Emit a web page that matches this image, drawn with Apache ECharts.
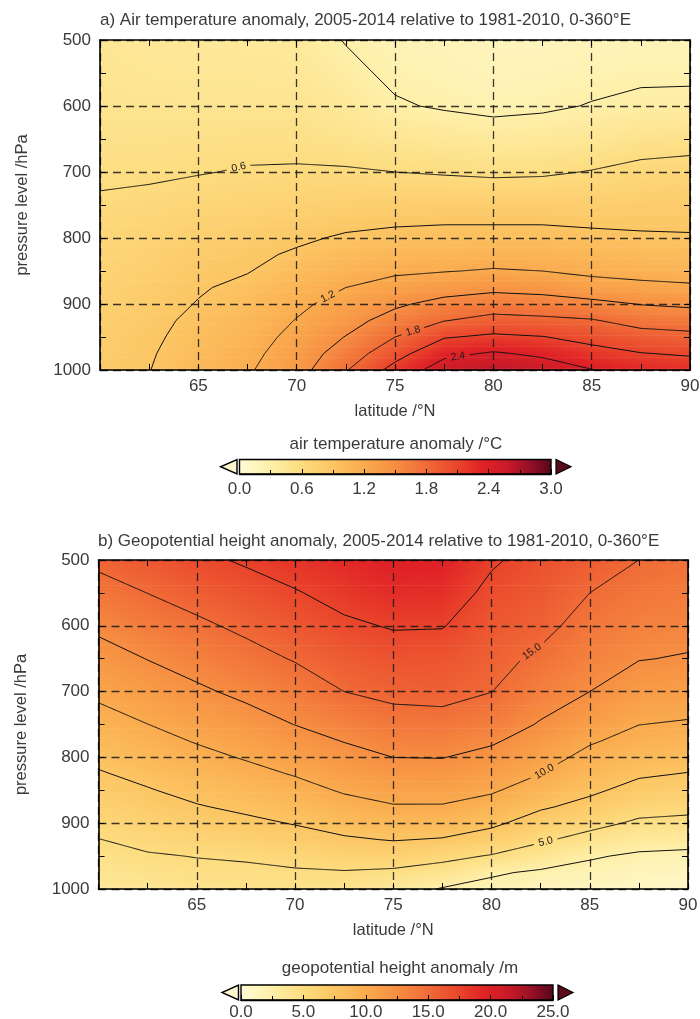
<!DOCTYPE html>
<html>
<head>
<meta charset="utf-8">
<script src="https://cdn.jsdelivr.net/npm/echarts@6/dist/echarts.min.js"></script>
<style>
  html, body { margin: 0; padding: 0; background: #ffffff; }
  #chart { width: 700px; height: 1019px; }
</style>
</head>
<body>
<div id="chart"></div>
<script>
// ---- grid coordinates ----
const latitudes = [60, 62.5, 65, 67.5, 70, 72.5, 75, 77.5, 80, 82.5, 85, 87.5, 90];
const pressureLevels = [500, 550, 600, 650, 700, 750, 775, 800, 825, 850, 875, 900, 925, 950, 975, 1000];

// ---- air temperature anomaly (°C), one row per latitude, 500 -> 1000 hPa ----
const airTempAnomaly = [
  [0.45, 0.47, 0.49, 0.52, 0.56, 0.63, 0.66, 0.68, 0.70, 0.72, 0.74, 0.76, 0.78, 0.79, 0.81, 0.82],
  [0.43, 0.45, 0.48, 0.52, 0.57, 0.65, 0.69, 0.72, 0.75, 0.77, 0.80, 0.82, 0.84, 0.86, 0.88, 0.895],
  [0.42, 0.44, 0.48, 0.53, 0.59, 0.69, 0.74, 0.78, 0.82, 0.85, 0.88, 0.91, 0.95, 0.98, 1.01, 1.04],
  [0.41, 0.44, 0.48, 0.54, 0.615, 0.71, 0.76, 0.81, 0.85, 0.89, 0.95, 1.00, 1.05, 1.09, 1.13, 1.17],
  [0.40, 0.43, 0.48, 0.54, 0.62, 0.74, 0.80, 0.86, 0.93, 1.00, 1.08, 1.15, 1.21, 1.27, 1.33, 1.38],
  [0.29, 0.35, 0.42, 0.50, 0.62, 0.76, 0.84, 0.93, 1.01, 1.10, 1.20, 1.29, 1.39, 1.51, 1.64, 1.78],
  [0.22, 0.26, 0.32, 0.46, 0.60, 0.78, 0.87, 0.96, 1.06, 1.16, 1.30, 1.45, 1.62, 1.80, 1.99, 2.20],
  [0.20, 0.23, 0.28, 0.43, 0.58, 0.79, 0.88, 0.98, 1.08, 1.19, 1.36, 1.60, 1.79, 2.08, 2.33, 2.55],
  [0.17, 0.20, 0.25, 0.40, 0.56, 0.79, 0.88, 0.98, 1.09, 1.22, 1.43, 1.66, 1.89, 2.15, 2.43, 2.65],
  [0.17, 0.21, 0.27, 0.41, 0.57, 0.79, 0.88, 0.98, 1.09, 1.20, 1.40, 1.63, 1.86, 2.11, 2.35, 2.55],
  [0.19, 0.24, 0.31, 0.44, 0.61, 0.78, 0.86, 0.96, 1.06, 1.15, 1.30, 1.58, 1.82, 2.01, 2.20, 2.41],
  [0.20, 0.26, 0.35, 0.50, 0.66, 0.80, 0.86, 0.93, 1.02, 1.11, 1.27, 1.49, 1.70, 1.91, 2.11, 2.30],
  [0.21, 0.26, 0.36, 0.52, 0.68, 0.81, 0.86, 0.92, 1.00, 1.09, 1.24, 1.45, 1.67, 1.87, 2.07, 2.25]
];

// ---- geopotential height anomaly (m), one row per latitude, 500 -> 1000 hPa ----
const geoHeightAnomaly = [
  [15.45, 14.2, 12.9, 11.68, 10.42, 9.18, 8.56, 7.95, 7.33, 6.74, 6.14, 5.55, 4.96, 4.45, 3.95, 3.5],
  [16.3, 15.02, 13.8, 12.55, 11.3, 9.98, 9.33, 8.68, 8.02, 7.37, 6.74, 6.1, 5.46, 4.85, 4.3, 3.8],
  [17.05, 15.83, 14.6, 13.38, 12.15, 10.8, 10.13, 9.45, 8.77, 8.07, 7.37, 6.7, 5.9, 5.05, 4.6, 4.2],
  [17.75, 16.6, 15.45, 14.25, 12.98, 11.6, 10.88, 10.15, 9.4, 8.65, 7.88, 7.08, 6.25, 5.2, 4.65, 4.3],
  [18.5, 17.35, 16.25, 15.15, 13.8, 12.53, 11.75, 10.95, 10.13, 9.3, 8.45, 7.6, 6.7, 5.65, 4.75, 4.4],
  [19.1, 18.2, 17.15, 16.0, 15.0, 13.35, 12.57, 11.8, 11.05, 10.2, 9.3, 8.28, 7.25, 6.05, 4.85, 4.3],
  [19.8, 18.9, 17.65, 16.55, 15.55, 14.1, 13.35, 12.5, 11.65, 10.8, 9.85, 8.75, 7.6, 6.2, 4.6, 3.4],
  [19.7, 18.75, 17.6, 16.5, 15.72, 14.15, 13.38, 12.55, 11.7, 10.8, 9.85, 8.7, 7.35, 5.55, 4.1, 2.35],
  [17.8, 16.9, 16.25, 15.65, 15.03, 13.6, 12.75, 11.9, 11.1, 10.25, 9.15, 7.9, 6.55, 4.85, 2.75, 1.9],
  [16.6, 16.2, 15.6, 14.6, 13.5, 12.33, 11.55, 10.75, 10.0, 8.95, 7.75, 6.55, 5.3, 3.8, 2.2, 1.4],
  [16.0, 15.0, 14.15, 13.35, 12.5, 11.05, 10.2, 9.45, 8.7, 7.85, 6.9, 5.65, 4.25, 2.7, 1.9, 1.2],
  [15.0, 14.2, 13.4, 12.58, 11.3, 10.02, 9.35, 8.55, 7.75, 6.85, 5.8, 4.65, 3.35, 2.2, 1.5, 1.0],
  [14.6, 13.85, 13.15, 12.35, 11.1, 9.8, 9.1, 8.3, 7.42, 6.55, 5.55, 4.45, 3.25, 2.0, 1.3, 0.8]
];

// ---- contour levels and colour scales ----
const airTempContourLevels = [0.3, 0.6, 0.9, 1.2, 1.5, 1.8, 2.1, 2.4, 2.7];
const geoHeightContourLevels = [2.5, 5, 7.5, 10, 12.5, 15, 17.5, 20, 22.5];
const airTempLabelledLevels = [0.6, 1.2, 1.8, 2.4];
const geoHeightLabelledLevels = [5, 10, 15];
const airTempRange = [0, 3];
const geoHeightRange = [0, 25];
const airTempColorbarStep = 0.6;
const geoHeightColorbarStep = 5;

// approximate spots (lat, hPa) where each contour label sits
const airTempLabelSpots = [[67.1, 699], [71.7, 896], [75.9, 939], [78.2, 980]];
const geoHeightLabelSpots = [[82.8, 933], [82.7, 822], [82.1, 641]];

// yellow - orange - red colour ramp
const RAMP = [
  [0.00, '#fffbd6'], [0.10, '#fef0aa'], [0.20, '#fddc7f'], [0.30, '#fcc563'],
  [0.40, '#faab4e'], [0.50, '#f68e42'], [0.60, '#f06b37'], [0.70, '#e9442b'],
  [0.78, '#e02226'], [0.86, '#c81a28'], [0.93, '#961027'], [1.00, '#55071a']
];
const UNDER_COLOR = '#fff7cc';
const OVER_COLOR = '#5a0a1c';

const FONT = '"Liberation Sans", Arial, Helvetica, sans-serif';
const TEXT = '#3a3a3a';

function hexRgb(h) {
  return [parseInt(h.slice(1, 3), 16), parseInt(h.slice(3, 5), 16), parseInt(h.slice(5, 7), 16)];
}
const RAMP_RGB = RAMP.map(s => [s[0], hexRgb(s[1])]);
function rampColor(t) {
  t = Math.max(0, Math.min(1, t));
  for (let k = 1; k < RAMP_RGB.length; k++) {
    if (t <= RAMP_RGB[k][0]) {
      const t0 = RAMP_RGB[k - 1][0], t1 = RAMP_RGB[k][0];
      const a = RAMP_RGB[k - 1][1], b = RAMP_RGB[k][1];
      const f = (t - t0) / (t1 - t0);
      return 'rgb(' + Math.round(a[0] + (b[0] - a[0]) * f) + ',' +
        Math.round(a[1] + (b[1] - a[1]) * f) + ',' + Math.round(a[2] + (b[2] - a[2]) * f) + ')';
    }
  }
  return RAMP[RAMP.length - 1][1];
}

// ---- marching squares on the latitude / pressure grid ----
function contourLines(values, level) {
  const nx = latitudes.length, ny = pressureLevels.length;
  const pointOf = key => {
    const parts = key.split(':');
    const i = +parts[1], j = +parts[2];
    if (parts[0] === 'h') {
      const va = values[i][j], vb = values[i + 1][j];
      const t = (level - va) / (vb - va);
      return [latitudes[i] + (latitudes[i + 1] - latitudes[i]) * t, pressureLevels[j]];
    }
    const va = values[i][j], vb = values[i][j + 1];
    const t = (level - va) / (vb - va);
    return [latitudes[i], pressureLevels[j] + (pressureLevels[j + 1] - pressureLevels[j]) * t];
  };
  const segs = [];
  for (let i = 0; i < nx - 1; i++) {
    for (let j = 0; j < ny - 1; j++) {
      const c = [values[i][j], values[i + 1][j], values[i + 1][j + 1], values[i][j + 1]];
      const edges = [['h', i, j, 0, 1], ['v', i + 1, j, 1, 2], ['h', i, j + 1, 3, 2], ['v', i, j, 0, 3]];
      const hits = [];
      edges.forEach(e => {
        if ((c[e[3]] >= level) !== (c[e[4]] >= level)) hits.push(e[0] + ':' + e[1] + ':' + e[2]);
      });
      if (hits.length === 2) segs.push(hits);
      else if (hits.length === 4) {
        const centre = (c[0] + c[1] + c[2] + c[3]) / 4;
        if ((c[0] >= level) === (centre >= level)) { segs.push([hits[0], hits[1]]); segs.push([hits[2], hits[3]]); }
        else { segs.push([hits[0], hits[3]]); segs.push([hits[1], hits[2]]); }
      }
    }
  }
  // join the cell segments into polylines
  const adj = {};
  segs.forEach((s, k) => s.forEach(key => { (adj[key] = adj[key] || []).push(k); }));
  const used = segs.map(() => false);
  const walk = (k, startKey) => {
    const keys = [startKey];
    let cur = k, key = startKey;
    while (cur !== -1) {
      used[cur] = true;
      const s = segs[cur];
      key = s[0] === key ? s[1] : s[0];
      keys.push(key);
      cur = -1;
      for (const m of adj[key]) if (!used[m]) { cur = m; break; }
    }
    return keys;
  };
  const lines = [];
  Object.keys(adj).forEach(key => {
    if (adj[key].length === 1 && !used[adj[key][0]]) lines.push(walk(adj[key][0], key));
  });
  segs.forEach((s, k) => { if (!used[k]) lines.push(walk(k, s[0])); });
  return lines.map(keys => keys.map(pointOf));
}

function buildPolylines(values, levels) {
  const out = [];
  levels.forEach(level => contourLines(values, level).forEach(pts => out.push({ level, pts })));
  return out;
}

// where a contour label sits, in pixels, with the local direction of the line
function labelPlacement(polys, level, spot, api) {
  const hp = api.coord(spot);
  let best = null;
  polys.forEach(pl => {
    if (pl.level !== level) return;
    const px = pl.pts.map(p => api.coord(p));
    for (let k = 0; k < px.length - 1; k++) {
      const a = px[k], b = px[k + 1];
      const dx = b[0] - a[0], dy = b[1] - a[1];
      const len2 = dx * dx + dy * dy || 1e-9;
      let t = ((hp[0] - a[0]) * dx + (hp[1] - a[1]) * dy) / len2;
      t = Math.max(0, Math.min(1, t));
      const q = [a[0] + dx * t, a[1] + dy * t];
      const d = Math.hypot(q[0] - hp[0], q[1] - hp[1]);
      if (!best || d < best.d) best = { d, x: q[0], y: q[1], dx, dy };
    }
  });
  if (!best) return null;
  let ang = Math.atan2(best.dy, best.dx);
  if (ang > Math.PI / 2) ang -= Math.PI;
  if (ang < -Math.PI / 2) ang += Math.PI;
  return { x: best.x, y: best.y, rotation: -ang };
}

function labelText(level) {
  return level.toFixed(1);
}

function cutPolyline(pts, centre, r) {
  const pieces = [];
  let cur = [];
  for (let k = 0; k < pts.length - 1; k++) {
    const a = pts[k], b = pts[k + 1];
    const n = Math.max(1, Math.ceil(Math.hypot(b[0] - a[0], b[1] - a[1])));
    for (let s = (k === 0 ? 0 : 1); s <= n; s++) {
      const t = s / n;
      const p = [a[0] + (b[0] - a[0]) * t, a[1] + (b[1] - a[1]) * t];
      if (Math.hypot(p[0] - centre[0], p[1] - centre[1]) < r) {
        if (cur.length > 1) pieces.push(cur);
        cur = [];
      } else cur.push(p);
    }
  }
  if (cur.length > 1) pieces.push(cur);
  return pieces;
}

// ---- series builders ----
function fillSeries(values, range, axisIdx) {
  const cells = [];
  for (let i = 0; i < latitudes.length - 1; i++)
    for (let j = 0; j < pressureLevels.length - 1; j++)
      cells.push([latitudes[i], pressureLevels[j], i, j]);
  return {
    type: 'custom', xAxisIndex: axisIdx, yAxisIndex: axisIdx, z: 1, silent: true,
    animation: false, progressive: 0,
    encode: { x: 0, y: 1 },
    data: cells,
    renderItem(params, api) {
      const i = api.value(2), j = api.value(3);
      const pA = api.coord([latitudes[i], pressureLevels[j]]);
      const pB = api.coord([latitudes[i + 1], pressureLevels[j + 1]]);
      const x0 = Math.min(pA[0], pB[0]), x1 = Math.max(pA[0], pB[0]);
      const y0 = Math.min(pA[1], pB[1]), y1 = Math.max(pA[1], pB[1]);
      const h = y1 - y0;
      const rows = Math.max(1, Math.ceil(h / 2));
      const span = range[1] - range[0];
      const children = [];
      for (let r = 0; r < rows; r++) {
        const t = (r + 0.5) / rows;
        const vl = values[i][j] + (values[i][j + 1] - values[i][j]) * t;
        const vr = values[i + 1][j] + (values[i + 1][j + 1] - values[i + 1][j]) * t;
        const stops = [];
        for (let k = 0; k <= 6; k++) {
          const f = k / 6;
          stops.push({ offset: f, color: rampColor((vl + (vr - vl) * f - range[0]) / span) });
        }
        children.push({
          type: 'rect',
          shape: { x: x0, y: y0 + h * r / rows, width: x1 - x0 + 0.7, height: h / rows + 0.7 },
          style: { fill: { type: 'linear', x: 0, y: 0, x2: 1, y2: 0, colorStops: stops } }
        });
      }
      return { type: 'group', children };
    }
  };
}

function contourSeries(polys, labelled, spots, axisIdx) {
  return {
    type: 'custom', xAxisIndex: axisIdx, yAxisIndex: axisIdx, z: 5, silent: true,
    animation: false, progressive: 0,
    encode: { x: 0, y: 1 },
    data: polys.map((pl, k) => [pl.pts[0][0], pl.pts[0][1], k]),
    renderItem(params, api) {
      const pl = polys[api.value(2)];
      let pieces = [pl.pts.map(p => api.coord(p))];
      const li = labelled.indexOf(pl.level);
      if (li >= 0) {
        const place = labelPlacement(polys, pl.level, spots[li], api);
        if (place) {
          const r = labelText(pl.level).length * 2.9 + 3;
          pieces = cutPolyline(pieces[0], [place.x, place.y], r);
        }
      }
      return {
        type: 'group',
        children: pieces.map(pts => ({
          type: 'polyline', shape: { points: pts },
          style: { stroke: '#111111', lineWidth: 1, fill: null }
        }))
      };
    }
  };
}

function contourLabelSeries(polys, labelled, spots, axisIdx) {
  return {
    type: 'custom', xAxisIndex: axisIdx, yAxisIndex: axisIdx, z: 6, silent: true,
    animation: false,
    encode: { x: 0, y: 1 },
    data: labelled.map((lv, k) => [spots[k][0], spots[k][1], k]),
    renderItem(params, api) {
      const k = api.value(2);
      const place = labelPlacement(polys, labelled[k], spots[k], api);
      if (!place) return null;
      return {
        type: 'text', x: place.x, y: place.y, rotation: place.rotation,
        style: {
          text: labelText(labelled[k]), fill: '#1a1a1a',
          font: '10.5px ' + FONT, align: 'center', verticalAlign: 'middle'
        }
      };
    }
  };
}

function colorbarSeries(range, axisIdx) {
  return {
    type: 'custom', xAxisIndex: axisIdx, yAxisIndex: axisIdx, z: 1, silent: true,
    animation: false,
    encode: { x: 0, y: 1 },
    data: [[range[0], 0]],
    renderItem(params, api) {
      const tl = api.coord([range[0], 1]);
      const br = api.coord([range[1], 0]);
      const stops = [];
      for (let k = 0; k <= 40; k++) stops.push({ offset: k / 40, color: rampColor(k / 40) });
      const h = br[1] - tl[1], mid = (tl[1] + br[1]) / 2;
      return {
        type: 'group',
        children: [
          {
            type: 'rect', shape: { x: tl[0], y: tl[1], width: br[0] - tl[0], height: h },
            style: { fill: { type: 'linear', x: 0, y: 0, x2: 1, y2: 0, colorStops: stops }, stroke: '#000', lineWidth: 1.4 }
          },
          {
            type: 'polygon', shape: { points: [[tl[0] - 2.5, tl[1]], [tl[0] - 2.5, br[1]], [tl[0] - 19, mid]] },
            style: { fill: UNDER_COLOR, stroke: '#000', lineWidth: 1.4 }
          },
          {
            type: 'polygon', shape: { points: [[br[0] + 5, tl[1]], [br[0] + 5, br[1]], [br[0] + 20, mid]] },
            style: { fill: OVER_COLOR, stroke: '#000', lineWidth: 1.2 }
          }
        ]
      };
    }
  };
}

// ---- axes ----
const tickLine = { color: '#000', width: 1 };
function latAxis(grid, pos, withLabels) {
  return {
    gridIndex: grid, type: 'value', min: 60, max: 90, interval: 5, position: pos, z: 3,
    axisLine: { show: true, onZero: false, lineStyle: { color: '#000', width: 1.6 } },
    axisTick: { show: true, inside: true, length: 6, lineStyle: tickLine },
    minorTick: { show: true, splitNumber: 2, length: 6, lineStyle: tickLine },
    splitLine: { show: withLabels, lineStyle: { color: 'rgba(25,25,25,0.85)', width: 1.3, type: [8, 5] } },
    axisLabel: {
      show: withLabels, margin: 8, fontSize: 17, color: TEXT, fontFamily: FONT,
      formatter: v => (v === 60 ? '' : String(v))
    },
    name: withLabels ? 'latitude /°N' : '', nameLocation: 'middle', nameGap: 33,
    nameTextStyle: { fontSize: 16.5, color: TEXT, fontFamily: FONT }
  };
}
function pressureAxis(grid, pos, withLabels) {
  return {
    gridIndex: grid, type: 'value', min: 500, max: 1000, interval: 100, inverse: true, position: pos, z: 3,
    axisLine: { show: true, onZero: false, lineStyle: { color: '#000', width: 1.6 } },
    axisTick: { show: true, inside: true, length: 6, lineStyle: tickLine },
    minorTick: { show: true, splitNumber: 2, length: 6, lineStyle: tickLine },
    splitLine: { show: withLabels, lineStyle: { color: 'rgba(25,25,25,0.85)', width: 1.3, type: [8, 5] } },
    axisLabel: { show: withLabels, margin: 9, fontSize: 17, color: TEXT, fontFamily: FONT, formatter: v => String(v) },
    name: withLabels ? 'pressure level /hPa' : '', nameLocation: 'middle', nameRotate: 90, nameGap: 69,
    nameTextStyle: { fontSize: 16.5, color: TEXT, fontFamily: FONT }
  };
}
function colorbarAxis(grid, range, step, labelGap) {
  return {
    gridIndex: grid, type: 'value', min: range[0], max: range[1], interval: step, position: 'bottom', z: 3,
    axisLine: { show: true, onZero: false, lineStyle: { color: '#000', width: 1.4 } },
    axisTick: { show: true, inside: true, length: 5, lineStyle: tickLine },
    minorTick: { show: true, splitNumber: 2, length: 4, lineStyle: tickLine },
    splitLine: { show: false },
    axisLabel: { margin: labelGap, fontSize: 17, color: TEXT, fontFamily: FONT, formatter: v => v.toFixed(1) }
  };
}
function hiddenAxis(grid) {
  return { gridIndex: grid, type: 'value', min: 0, max: 1, show: false };
}

const tempPolys = buildPolylines(airTempAnomaly, airTempContourLevels);
const heightPolys = buildPolylines(geoHeightAnomaly, geoHeightContourLevels);

const titleStyle = { fontSize: 17, fontWeight: 'normal', color: TEXT, fontFamily: FONT };

const option = {
  backgroundColor: '#ffffff',
  animation: false,
  title: [
    { text: 'a) Air temperature anomaly, 2005-2014 relative to 1981-2010, 0-360°E', left: 100, top: 12, padding: 0, textStyle: titleStyle },
    { text: 'b) Geopotential height anomaly, 2005-2014 relative to 1981-2010, 0-360°E', left: 98, top: 533, padding: 0, textStyle: titleStyle },
    { text: 'air temperature anomaly /°C', left: 396, top: 436, padding: 0, textAlign: 'center', textStyle: titleStyle },
    { text: 'geopotential height anomaly /m', left: 400, top: 960, padding: 0, textAlign: 'center', textStyle: titleStyle }
  ],
  grid: [
    { left: 100, top: 40, width: 590, height: 330, outerBoundsMode: 'none' },
    { left: 98.5, top: 560, width: 589.5, height: 329, outerBoundsMode: 'none' },
    { left: 239.5, top: 459.5, width: 311.5, height: 14.5, outerBoundsMode: 'none' },
    { left: 241, top: 985, width: 312, height: 15, outerBoundsMode: 'none' }
  ],
  xAxis: [
    latAxis(0, 'bottom', true), latAxis(0, 'top', false),
    latAxis(1, 'bottom', true), latAxis(1, 'top', false),
    colorbarAxis(2, airTempRange, airTempColorbarStep, 7),
    colorbarAxis(3, geoHeightRange, geoHeightColorbarStep, 4)
  ],
  yAxis: [
    pressureAxis(0, 'left', true), pressureAxis(0, 'right', false),
    pressureAxis(1, 'left', true), pressureAxis(1, 'right', false),
    hiddenAxis(2), hiddenAxis(3)
  ],
  series: [
    fillSeries(airTempAnomaly, airTempRange, 0),
    contourSeries(tempPolys, airTempLabelledLevels, airTempLabelSpots, 0),
    contourLabelSeries(tempPolys, airTempLabelledLevels, airTempLabelSpots, 0),
    fillSeries(geoHeightAnomaly, geoHeightRange, 2),
    contourSeries(heightPolys, geoHeightLabelledLevels, geoHeightLabelSpots, 2),
    contourLabelSeries(heightPolys, geoHeightLabelledLevels, geoHeightLabelSpots, 2),
    colorbarSeries(airTempRange, 4),
    colorbarSeries(geoHeightRange, 5)
  ]
};

const chart = echarts.init(document.getElementById('chart'), null, { renderer: 'canvas' });
chart.setOption(option);
</script>
</body>
</html>
